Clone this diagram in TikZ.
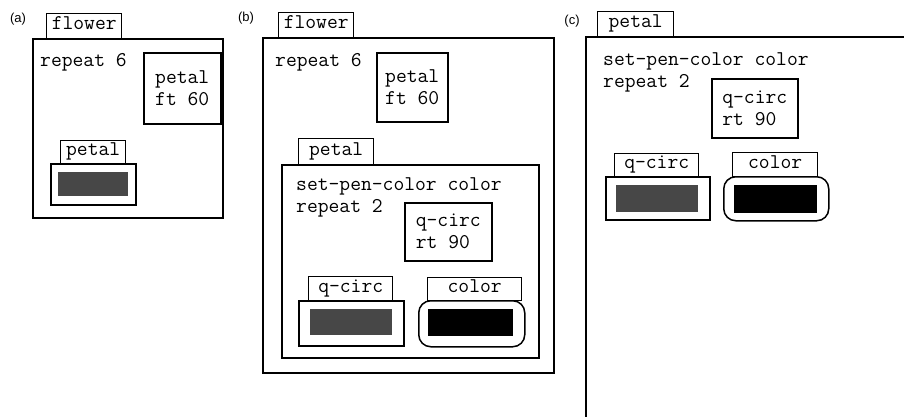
\documentclass[tikz,border=0pt]{standalone}
\usepackage{fontspec}
\newfontfamily\labelfont{Liberation Sans}
\usetikzlibrary{positioning}

\tikzset{
    box/.style={draw, line width=1.5pt, inner sep=0pt, anchor=north west},
    tab/.style={box, line width=1.4pt, font=\ttfamily\fontsize{21}{22}\selectfont, text height=11pt, text depth=3.5pt},
    code/.style={font=\ttfamily\fontsize{21}{22}\selectfont, inner sep=0pt, anchor=base west},
    callbox/.style={box, font=\ttfamily\fontsize{21}{22}\selectfont, align=left},
    roundbox/.style={box, rounded corners=12pt},
    swatch/.style={fill=black!72, inner sep=0pt, anchor=north west},
    inkswatch/.style={swatch, fill=black},
    tag/.style={font=\labelfont\fontsize{13}{15}\selectfont, inner sep=0pt}
}

\begin{document}
\begin{tikzpicture}[x=1pt, y=-1pt]
    \useasboundingbox (0,0) rectangle (904,416);

    % (a) flower
    \node[tag] (la) at (18,19) {(a)};
    \node[tab, minimum width=75, minimum height=25] (aflower) at (46,13) {flower};
    \node[box, minimum width=190, minimum height=179] (aframe) at (32,38) {};
    \node[code] (arepeat) at (40,66) {repeat 6};
    \node[callbox, minimum width=77, minimum height=71] (acall) at (143,52) {petal\\ft 60};
    \node[tab, minimum width=65, minimum height=23] (apetal) at (60,140) {petal};
    \node[box, minimum width=85, minimum height=41] (apetalbox) at (50,163) {};
    \node[swatch, minimum width=70, minimum height=24] (apetalfill) at (58,172) {};

    % (b) flower, petal opened
    \node[tag] (lb) at (246,18) {(b)};
    \node[tab, minimum width=75, minimum height=25] (bflower) at (278,12) {flower};
    \node[box, minimum width=291, minimum height=335] (bframe) at (262,37) {};
    \node[code] (brepeat) at (275,66) {repeat 6};
    \node[callbox, minimum width=71, minimum height=69] (bcall) at (376,52) {petal\\ft 60};
    \node[tab, minimum width=75, minimum height=26] (bpetal) at (298,138) {petal};
    \node[box, minimum width=257, minimum height=193] (bpetalbox) at (281,164) {};
    \node[code] (bpen) at (296,190) {set-pen-color color};
    \node[code] (brepeattwo) at (296,212) {repeat 2};
    \node[callbox, minimum width=87, minimum height=58] (bqcall) at (404,202) {q-circ\\rt 90};
    \node[tab, minimum width=84, minimum height=24] (bqcirc) at (308,276) {q-circ};
    \node[box, minimum width=105, minimum height=45] (bqcircbox) at (298,300) {};
    \node[swatch, minimum width=82, minimum height=26] (bqcircfill) at (310,309) {};
    \node[tab, minimum width=94, minimum height=23] (bcolor) at (427,277) {color};
    \node[roundbox, minimum width=106, minimum height=46] (bcolorbox) at (418,300) {};
    \node[inkswatch, minimum width=85, minimum height=27] (bcolorfill) at (428,309) {};

    % (c) petal
    \node[tag] (lc) at (572,21) {(c)};
    \node[tab, minimum width=76, minimum height=25] (cpetal) at (597,11) {petal};
    \node[box, minimum width=340, minimum height=400] (cframe) at (585,36) {};
    \node[code] (cpen) at (603,65) {set-pen-color color};
    \node[code] (crepeat) at (603,87) {repeat 2};
    \node[callbox, minimum width=86, minimum height=59] (cqcall) at (711,78) {q-circ\\rt 90};
    \node[tab, minimum width=84, minimum height=23] (cqcirc) at (614,153) {q-circ};
    \node[box, minimum width=104, minimum height=43] (cqcircbox) at (605,176) {};
    \node[swatch, minimum width=82, minimum height=27] (cqcircfill) at (616,185) {};
    \node[tab, minimum width=85, minimum height=24] (ccolor) at (732,152) {color};
    \node[roundbox, minimum width=105, minimum height=44] (ccolorbox) at (723,176) {};
    \node[inkswatch, minimum width=83, minimum height=28] (ccolorfill) at (734,185) {};
\end{tikzpicture}
\end{document}
